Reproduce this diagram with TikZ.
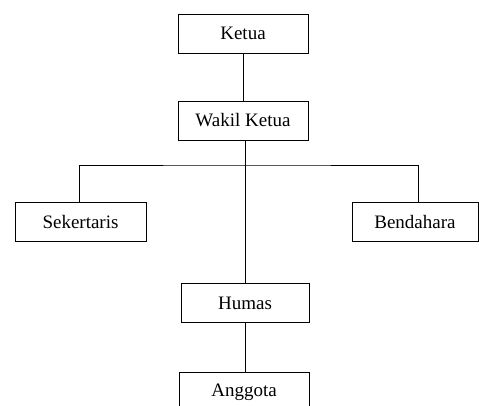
\documentclass[tikz,border=0pt]{standalone}
\usepackage{fontspec}
\setmainfont{Liberation Serif}
\usetikzlibrary{positioning}
\tikzset{
x=1pt, y=-1pt, % one unit per pixel, y downwards
jabatan/.style={draw, fill=white, minimum width=130pt, minimum height=39pt, inner sep=0pt, font=\fontsize{19}{22}\selectfont}, % the boxes of the chart
}
\begin{document}
\begin{tikzpicture}[line width=0.9pt]
      \useasboundingbox (0,0) rectangle (479,405);
      \clip (0,0) rectangle (479,405);
      \node[jabatan] (ketua) at (243,33.5) {Ketua};
      \node[jabatan] (wakil) at (243,120.5) {Wakil Ketua};
      \node[jabatan, minimum width=131pt] (sekertaris) at (80.5,221.5) {Sekertaris};
      \node[jabatan, minimum width=126pt] (bendahara) at (415,221.5) {Bendahara};
      \node[jabatan, minimum width=128pt] (humas) at (245,303) {Humas};
      \node[jabatan] (anggota) at (244,392) {Anggota};
      \coordinate (cabang) at (245,165);

      \draw (ketua.south) -- (wakil.south |- ketua.south) -- (wakil.north);
      \draw (humas.north) -- (humas.north |- wakil.south);
      \draw ([xshift=-1.5pt]sekertaris.north) |- (cabang) -| ([xshift=3pt]bendahara.north);
      \draw (humas.south) -- (humas.south |- anggota.north);
    \end{tikzpicture}
\end{document}
